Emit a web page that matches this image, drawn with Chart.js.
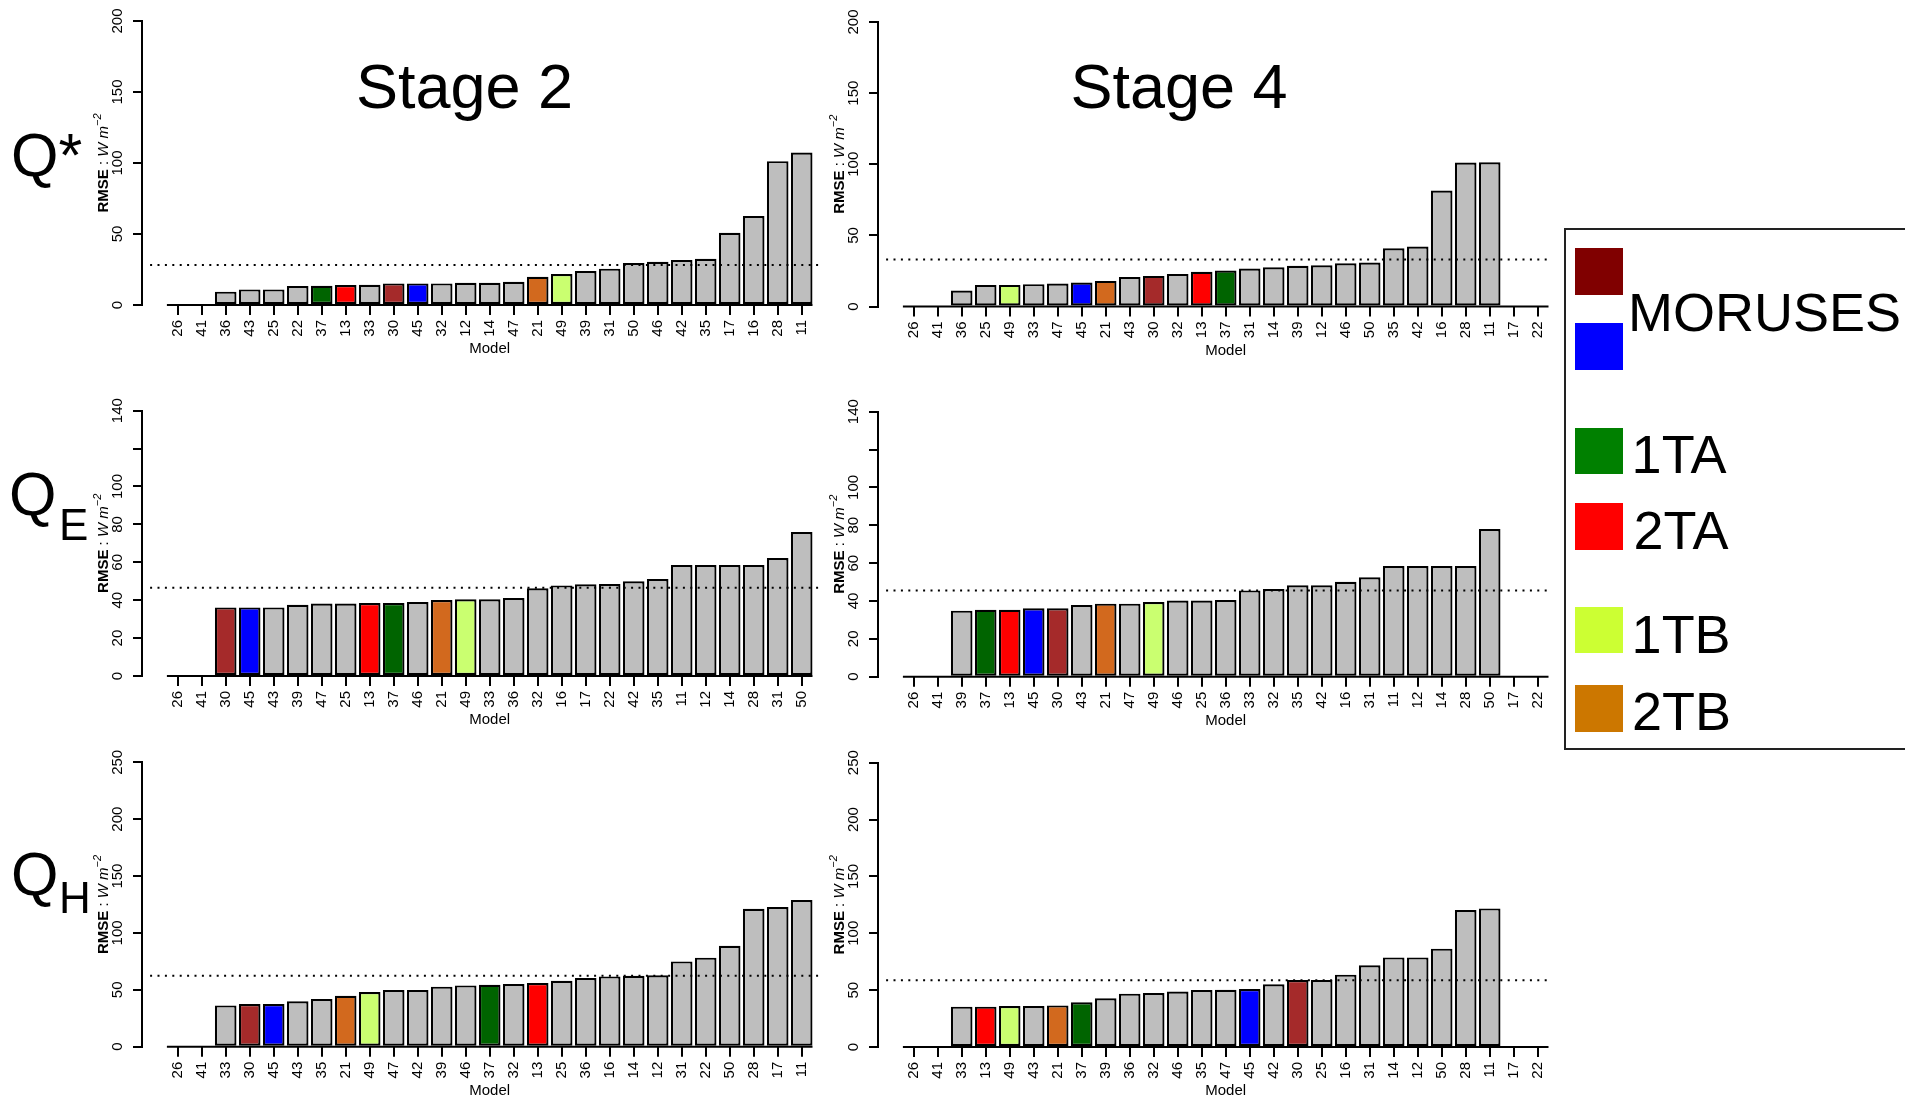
<!DOCTYPE html>
<html>
<head>
<meta charset="utf-8">
<script src="https://cdn.jsdelivr.net/npm/chart.js"></script>
<style>
html,body{margin:0;padding:0;background:#fff;width:1905px;height:1099px;overflow:hidden;}
body{position:relative;font-family:"Liberation Sans",Arial,Helvetica,sans-serif;color:#000;}
canvas{position:absolute;}
.t{position:absolute;white-space:nowrap;line-height:1;color:#000;}
.sw{position:absolute;}
#legend{position:absolute;left:1564px;top:228px;width:400px;height:518px;border:2px solid #222;background:#fff;box-sizing:content-box;}
</style>
</head>
<body>

<script>
const FONT = '"Liberation Sans", Arial, Helvetica, sans-serif';

// ---------------- data ----------------
const qStarStage2Models = [26,41,36,43,25,22,37,13,33,30,45,32,12,14,47,21,49,39,31,50,46,42,35,17,16,28,11];
const qStarStage2Rmse   = [0,0,9.4,11,11,13.4,13.6,14,14.3,15.2,15.2,15.2,15.7,15.7,16.4,19.9,21.8,23.9,25.6,29.5,30.5,31.7,32.6,50.9,62.6,101.3,107.4];
const qStarStage2Mean   = 28.1;

const qStarStage4Models = [26,41,36,25,49,33,47,45,21,43,30,32,13,37,31,14,39,12,46,50,35,42,16,28,11,17,22];
const qStarStage4Rmse   = [0,0,11.2,15.2,15.2,15.7,16.2,16.9,18.0,20.8,21.5,22.9,24.4,25.3,26.7,27.6,28.6,29.0,30.4,30.9,41.0,42.2,81.5,101.2,101.4,0,0];
const qStarStage4Mean   = 33.0;

const qEStage2Models = [26,41,30,45,43,39,47,25,13,37,46,21,49,33,36,32,16,17,22,42,35,11,12,14,28,31,50];
const qEStage2Rmse   = [0,0,36.2,36.2,36.2,37.6,38.2,38.2,38.5,38.5,39.0,40.1,40.5,40.5,41.2,46.3,47.8,48.4,48.5,50.0,51.2,58.6,58.6,58.6,58.6,62.3,76.0];
const qEStage2Mean   = 46.6;

const qEStage4Models = [26,41,39,37,13,45,30,43,21,47,49,46,25,36,33,32,35,42,16,31,11,12,14,28,50,17,22];
const qEStage4Rmse   = [0,0,34.9,35.4,35.4,36.1,36.1,37.9,38.6,38.6,39.4,40.2,40.2,40.5,45.6,46.3,48.3,48.3,50.2,52.5,58.5,58.5,58.5,58.5,78.0,0,0];
const qEStage4Mean   = 45.6;

const qHStage2Models = [26,41,33,30,45,43,35,21,49,47,42,39,46,37,32,13,25,36,16,14,12,31,22,50,28,17,11];
const qHStage2Rmse   = [0,0,36.3,37.5,37.5,39.9,41.9,44.8,48.1,49.8,49.8,52.8,53.9,54.5,55.1,56.0,58.0,60.4,61.8,62.4,62.7,75.0,78.3,88.8,121.3,122.8,129.0];
const qHStage2Mean   = 62.4;

const qHStage4Models = [26,41,33,13,49,43,21,37,39,36,32,46,35,47,45,42,30,25,16,31,14,12,50,28,11,17,22];
const qHStage4Rmse   = [0,0,35.5,35.5,36.0,36.0,36.6,39.3,42.8,46.9,47.5,48.7,50.1,50.4,51.0,55.1,58.9,58.9,63.6,71.8,78.8,78.8,86.5,120.5,121.9,0,0];
const qHStage4Mean   = 58.6;

const qStarTicks = [0,50,100,150,200];
const qStarTickLabels = ['0','50','100','150','200'];
const qETicks = [0,20,40,60,80,100,120,140];
const qETickLabels = ['0','20','40','60','80','100','','140'];
const qHTicks = [0,50,100,150,200,250];
const qHTickLabels = ['0','50','100','150','200','250'];

const highlightModels = [30,45,37,13,49,21];
const highlightColors = ['#a52a2a','#0000ff','#006400','#ff0000','#caff70','#d2691e'];
const otherColor = '#bebebe';

const legendLabels = ['MORUSES','1TA','2TA','1TB','2TB'];
const legendColors = ['#800000','#0000ff','#008000','#ff0000','#ccff33','#cc7700'];

const stageTitles = ['Stage 2','Stage 4'];

// ---------------- layout (positions / styles only) ----------------
const columns = [
  {canvasLeft: 40,  dotFrom: -1.15, dotTo: 26.72},
  {canvasLeft: 776, dotFrom: -1.15, dotTo: 26.39}
];
const Y_AXIS_W = 102, PLOT_W = 696, PAD_R = 15;
const X_MIN = -1.4875, X_MAX = 27.5125;

const panels = [
  {models: qStarStage2Models, rmse: qStarStage2Rmse, mean: qStarStage2Mean, ticks: qStarTicks, labels: qStarTickLabels, col: 0, top: 21,    zero: 305},
  {models: qStarStage4Models, rmse: qStarStage4Rmse, mean: qStarStage4Mean, ticks: qStarTicks, labels: qStarTickLabels, col: 1, top: 22,    zero: 306.5},
  {models: qEStage2Models,    rmse: qEStage2Rmse,    mean: qEStage2Mean,    ticks: qETicks,    labels: qETickLabels,    col: 0, top: 410.7, zero: 676},
  {models: qEStage4Models,    rmse: qEStage4Rmse,    mean: qEStage4Mean,    ticks: qETicks,    labels: qETickLabels,    col: 1, top: 411.7, zero: 676.7},
  {models: qHStage2Models,    rmse: qHStage2Rmse,    mean: qHStage2Mean,    ticks: qHTicks,    labels: qHTickLabels,    col: 0, top: 762.3, zero: 1046.7},
  {models: qHStage4Models,    rmse: qHStage4Rmse,    mean: qHStage4Mean,    ticks: qHTicks,    labels: qHTickLabels,    col: 1, top: 762.7, zero: 1047}
];

function barColor(m) {
  const k = highlightModels.indexOf(m);
  return k >= 0 ? highlightColors[k] : otherColor;
}

function drawYTitle(ctx, cx, cy) {
  const parts = [
    {t: 'RMSE', f: `bold 15px ${FONT}`, dy: 0},
    {t: ' : ',  f: `15px ${FONT}`, dy: 0},
    {t: 'W m',  f: `italic 15px ${FONT}`, dy: 0},
    {t: '\u22122', f: `italic 11px ${FONT}`, dy: -6}
  ];
  ctx.save();
  ctx.translate(cx, cy);
  ctx.rotate(-Math.PI / 2);
  let total = 0;
  parts.forEach(p => { ctx.font = p.f; p.w = ctx.measureText(p.t).width; total += p.w; });
  let x = -total / 2;
  ctx.textBaseline = 'middle';
  ctx.textAlign = 'left';
  ctx.fillStyle = '#000';
  parts.forEach(p => { ctx.font = p.f; ctx.fillText(p.t, x, p.dy); x += p.w; });
  ctx.restore();
}

function makePanel(p) {
  const col = columns[p.col];
  const canvasTop = Math.floor(p.top) - 20;
  const padTop = p.top - canvasTop;
  const height = Math.min(1099 - canvasTop, Math.ceil(p.zero - canvasTop + 58));
  const xAxisH = height - (p.zero - canvasTop);
  const width = Y_AXIS_W + PLOT_W + PAD_R;

  const cv = document.createElement('canvas');
  cv.width = width; cv.height = height;
  cv.style.left = col.canvasLeft + 'px';
  cv.style.top = canvasTop + 'px';
  cv.style.width = width + 'px'; cv.style.height = height + 'px';
  document.body.appendChild(cv);

  const n = p.models.length;
  const deco = {
    id: 'deco',
    afterDatasetsDraw(chart) {
      const {ctx, scales: {x, y}} = chart;
      const meta = chart.getDatasetMeta(0);
      const first = meta.data[0], last = meta.data[n - 1];
      const y0 = y.getPixelForValue(0);
      ctx.save();
      ctx.strokeStyle = '#000';
      ctx.lineWidth = 2;
      ctx.beginPath();
      ctx.moveTo(first.x - first.width / 2, y0);
      ctx.lineTo(last.x + last.width / 2, y0);
      ctx.stroke();
      ctx.font = `15px ${FONT}`;
      ctx.fillStyle = '#000';
      ctx.textAlign = 'center';
      ctx.textBaseline = 'middle';
      ctx.fillText('Model', (x.getPixelForValue(0) + x.getPixelForValue(n - 1)) / 2, y0 + 44);
      ctx.restore();
      drawYTitle(ctx, 64, (y.top + y.bottom) / 2);
    }
  };

  new Chart(cv, {
    type: 'bar',
    data: {
      datasets: [
        {
          type: 'bar',
          data: p.rmse.map((v, i) => ({x: i, y: v})),
          backgroundColor: p.models.map(barColor),
          borderColor: '#000',
          borderWidth: 2.2,
          borderSkipped: false,
          barPercentage: 0.9,
          categoryPercentage: 1.0,
          order: 2
        },
        {
          type: 'line',
          data: [{x: col.dotFrom, y: p.mean}, {x: col.dotTo, y: p.mean}],
          borderColor: '#000',
          borderWidth: 2,
          borderDash: [2, 5.4],
          pointRadius: 0,
          fill: false,
          order: 1
        }
      ]
    },
    options: {
      responsive: false,
      animation: false,
      devicePixelRatio: 1,
      events: [],
      layout: {padding: {left: 0, right: PAD_R, top: padTop, bottom: 0}},
      plugins: {legend: {display: false}, tooltip: {enabled: false}, title: {display: false}},
      scales: {
        x: {
          type: 'linear',
          min: X_MIN, max: X_MAX,
          offset: false,
          afterBuildTicks: s => { s.ticks = p.models.map((m, i) => ({value: i})); },
          afterFit: s => { s.height = xAxisH; },
          ticks: {
            callback: (v, i) => String(p.models[i]),
            autoSkip: false, minRotation: 90, maxRotation: 90,
            padding: 5, color: '#000', font: {family: FONT, size: 15}
          },
          grid: {display: true, offset: false, drawOnChartArea: false, drawTicks: true, tickLength: 10, color: '#000', lineWidth: 2},
          border: {display: false}
        },
        y: {
          type: 'linear',
          min: 0, max: p.ticks[p.ticks.length - 1],
          afterBuildTicks: s => { s.ticks = p.ticks.map(v => ({value: v})); },
          afterFit: s => { s.width = Y_AXIS_W; },
          ticks: {
            callback: (v, i) => p.labels[i],
            minRotation: 90, maxRotation: 90, crossAlign: 'center',
            padding: 3, color: '#000', font: {family: FONT, size: 15}
          },
          grid: {display: true, drawOnChartArea: false, drawTicks: true, tickLength: 9, color: '#000', lineWidth: 2},
          border: {display: true, color: '#000', width: 2}
        }
      }
    },
    plugins: [deco]
  });
}

panels.forEach(makePanel);

// ---------------- text labels ----------------
function addText(html, left, top, size, extra) {
  const d = document.createElement('div');
  d.className = 't';
  d.innerHTML = html;
  d.style.left = left + 'px';
  d.style.top = top + 'px';
  d.style.fontSize = size + 'px';
  if (extra) Object.assign(d.style, extra);
  document.body.appendChild(d);
  return d;
}

// stage titles (centred)
addText(stageTitles[0], 464.5 - 200, 54.5, 63, {width: '400px', textAlign: 'center'});
addText(stageTitles[1], 1179 - 200, 54.5, 63, {width: '400px', textAlign: 'center'});

// row labels
addText('Q*', 11, 125, 61);
addText('Q', 9, 464, 61);
addText('E', 59, 503, 44);
addText('Q', 11, 844, 61);
addText('H', 59, 876, 44);

// legend
const lg = document.createElement('div');
lg.id = 'legend';
document.body.appendChild(lg);
const swatches = [
  [legendColors[0], 248, 46.5],
  [legendColors[1], 323.3, 47],
  [legendColors[2], 427.6, 46.5],
  [legendColors[3], 503.4, 46.5],
  [legendColors[4], 607.4, 46],
  [legendColors[5], 685, 46.5]
];
swatches.forEach(s => {
  const d = document.createElement('div');
  d.className = 'sw';
  d.style.left = '1574.5px';
  d.style.top = s[1] + 'px';
  d.style.width = '48px';
  d.style.height = s[2] + 'px';
  d.style.background = s[0];
  document.body.appendChild(d);
});
addText(legendLabels[0], 1628, 284.5, 54);
addText(legendLabels[1], 1631.6, 427.4, 54);
addText(legendLabels[2], 1633.5, 503.2, 54);
addText(legendLabels[3], 1631.6, 606.5, 54);
addText(legendLabels[4], 1632, 683.9, 54);
</script>
</body>
</html>
